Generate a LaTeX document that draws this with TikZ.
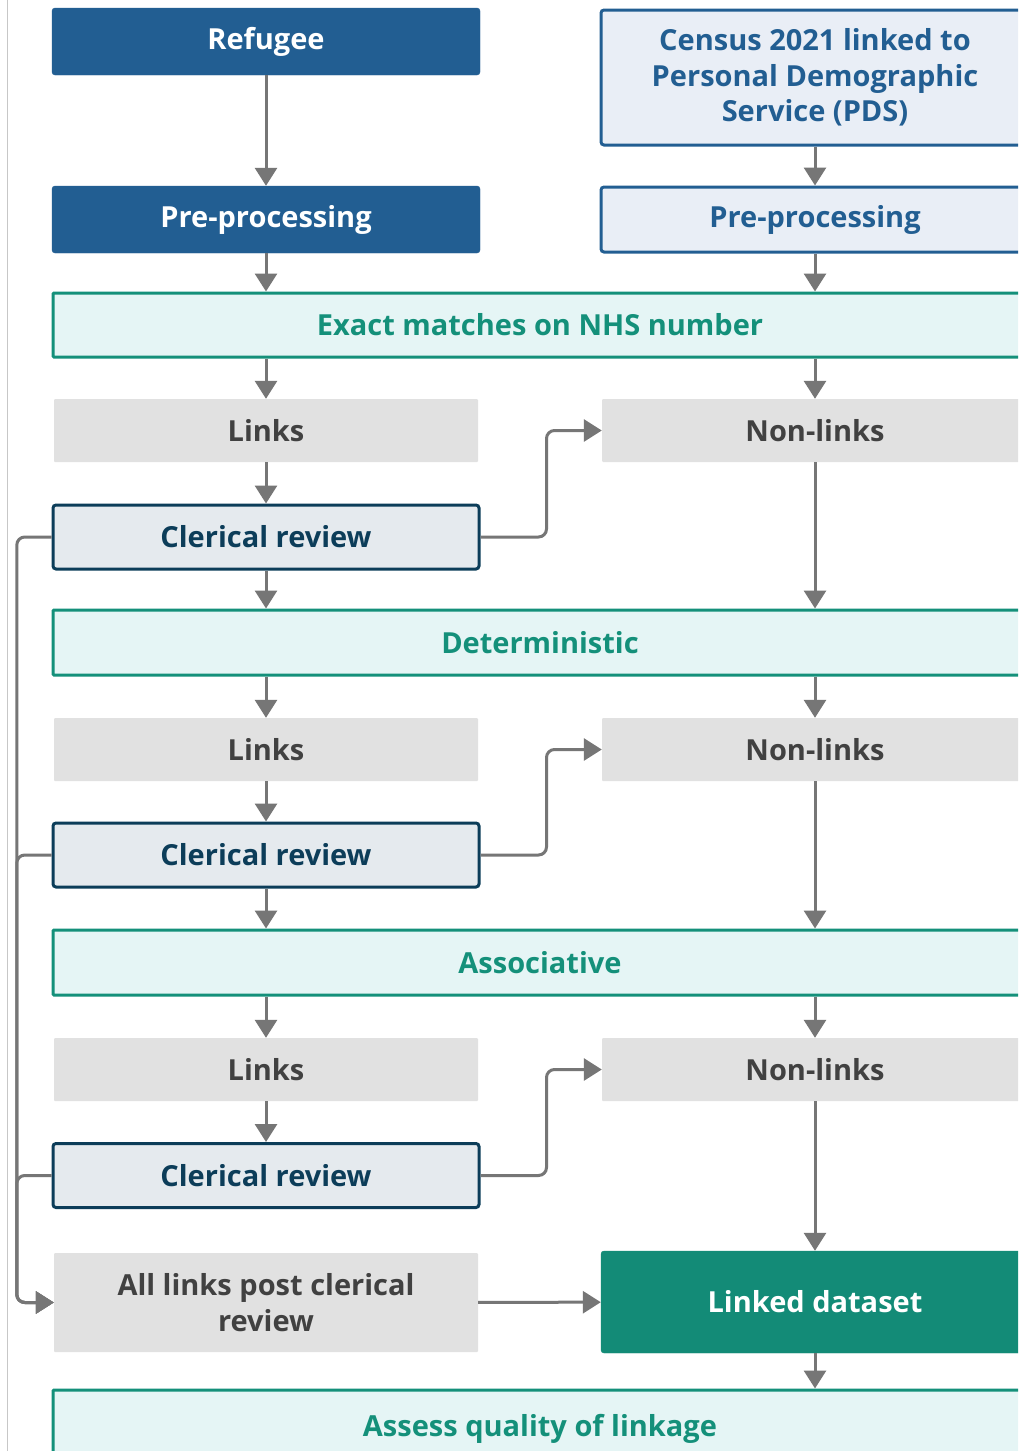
\documentclass[tikz,border=0pt]{standalone}
\usepackage{fontspec}
\setmainfont{Open Sans}
\usetikzlibrary{arrows.meta}
\definecolor{dblue}{HTML}{225E92}
\definecolor{lblue}{HTML}{E9EEF6}
\definecolor{tealb}{HTML}{14907A}
\definecolor{tealf}{HTML}{E5F5F5}
\definecolor{teald}{HTML}{138B77}
\definecolor{grayf}{HTML}{E1E1E1}
\definecolor{grayt}{HTML}{414141}
\definecolor{navy}{HTML}{0C3D59}
\definecolor{clerf}{HTML}{E5EAEE}
\definecolor{arrg}{HTML}{767676}
\tikzset{
  base/.style={rectangle, inner sep=0pt, align=center, font=\fontsize{29}{35.5}\selectfont\bfseries, rounded corners=3pt},
  srcbox/.style={base, fill=dblue, draw=dblue, text=white},
  censbox/.style={base, fill=lblue, draw=dblue, line width=3pt, text=dblue},
  stagebox/.style={base, fill=tealf, draw=tealb, line width=3pt, text=tealb, rounded corners=1pt},
  graybox/.style={base, fill=grayf, text=grayt, rounded corners=1pt},
  clerbox/.style={base, fill=clerf, draw=navy, line width=3pt, text=navy},
  finalbox/.style={base, fill=teald, draw=teald, text=white},
  arr/.style={draw=arrg, line width=3pt, -{Triangle[width=22pt,length=18pt]}},
  elb/.style={arr, rounded corners=8pt},
}
\begin{document}
\begin{tikzpicture}[x=1pt,y=-1pt]
\useasboundingbox (0,0) rectangle (1018,1451);
\clip (0,0) rectangle (1018,1451);
\fill[white] (0,0) rectangle (1018,1451);
\draw[color=black!22, line width=1pt] (7,0) -- (7,1451);
% nodes
\node[srcbox, minimum width=428pt, minimum height=67pt] (ref) at (266,41.5) {Refugee};
\node[censbox, minimum width=428pt, minimum height=135pt] (cen) at (815,77.5) {Census 2021 linked to\\Personal Demographic\\Service (PDS)};
\node[srcbox, minimum width=428pt, minimum height=67pt] (preL) at (266,219.5) {Pre-processing};
\node[censbox, minimum width=428pt, minimum height=65pt] (preR) at (815,219.5) {Pre-processing};
\node[stagebox, minimum width=974pt, minimum height=64pt] (exact) at (540,325) {Exact matches on NHS number};
\node[graybox, minimum width=424pt, minimum height=63pt] (l1) at (266,430.5) {Links};
\node[graybox, minimum width=426pt, minimum height=63pt] (n1) at (815,430.5) {Non-links};
\node[clerbox, minimum width=426pt, minimum height=64pt] (c1) at (266,537) {Clerical review};
\node[stagebox, minimum width=974pt, minimum height=65pt] (det) at (540,642.5) {Deterministic};
\node[graybox, minimum width=424pt, minimum height=63pt] (l2) at (266,749.5) {Links};
\node[graybox, minimum width=426pt, minimum height=63pt] (n2) at (815,749.5) {Non-links};
\node[clerbox, minimum width=426pt, minimum height=64pt] (c2) at (266,855) {Clerical review};
\node[stagebox, minimum width=974pt, minimum height=65pt] (asso) at (540,962.5) {Associative};
\node[graybox, minimum width=424pt, minimum height=63pt] (l3) at (266,1069.5) {Links};
\node[graybox, minimum width=426pt, minimum height=63pt] (n3) at (815,1069.5) {Non-links};
\node[clerbox, minimum width=426pt, minimum height=64pt] (c3) at (266,1175.5) {Clerical review};
\node[graybox, minimum width=424pt, minimum height=99pt] (all) at (266,1302.5) {All links post clerical\\review};
\node[finalbox, minimum width=428pt, minimum height=102pt] (lds) at (815,1302) {Linked dataset};
\node[stagebox, minimum width=974pt, minimum height=70pt, text depth=0pt] (aq) at (540,1425) {Assess quality of linkage};
% connectors
\draw[arr] (ref) -- (preL);
\draw[arr] (cen) -- (preR);
\draw[arr] (preL) -- (preL |- exact.north);
\draw[arr] (preR) -- (preR |- exact.north);
\draw[arr] (l1 |- exact.south) -- (l1);
\draw[arr] (n1 |- exact.south) -- (n1);
\draw[arr] (l1) -- (c1);
\draw[elb] (c1.east) -- ++(66,0) |- (n1.west);
\draw[arr] (c1) -- (c1 |- det.north);
\draw[arr] (n1) -- (n1 |- det.north);
\draw[arr] (l2 |- det.south) -- (l2);
\draw[arr] (n2 |- det.south) -- (n2);
\draw[arr] (l2) -- (c2);
\draw[elb] (c2.east) -- ++(66,0) |- (n2.west);
\draw[arr] (c2) -- (c2 |- asso.north);
\draw[arr] (n2) -- (n2 |- asso.north);
\draw[arr] (l3 |- asso.south) -- (l3);
\draw[arr] (n3 |- asso.south) -- (n3);
\draw[arr] (l3) -- (c3);
\draw[elb] (c3.east) -- ++(66,0) |- (n3.west);
\draw[arr] (n3) -- (lds);
\draw[elb] (c1.west) -| ([xshift=-37pt]all.west) -- (all.west);
\draw[elb] (c2.west) -| ([xshift=-37pt]all.west) -- (all.west);
\draw[elb] (c3.west) -| ([xshift=-37pt]all.west) -- (all.west);
\draw[arr] (all) -- (lds);
\draw[arr] (lds) -- (lds |- aq.north);
\end{tikzpicture}
\end{document}
